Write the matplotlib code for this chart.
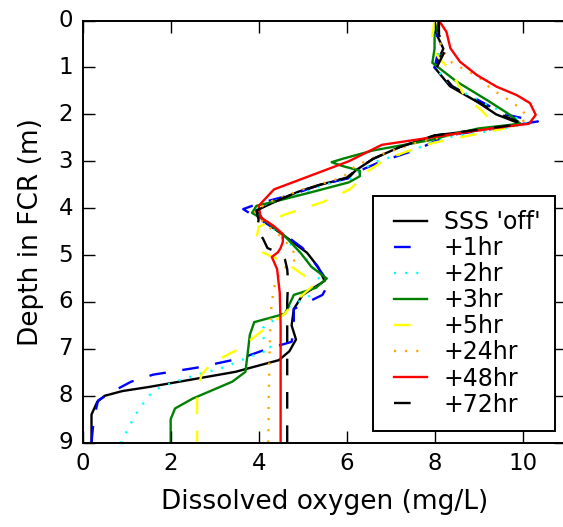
import numpy as np
import matplotlib
matplotlib.use('Agg')
import matplotlib.pyplot as plt

# depth (m) / dissolved oxygen (mg/L) profiles
depth_off = [0.0, 0.3, 0.6, 1.0, 1.4, 1.75, 2.0, 2.2, 2.3, 2.45, 2.7, 2.95, 3.2, 3.35, 3.5, 3.65,
             3.85, 4.05, 4.3, 4.6, 4.95, 5.25, 5.55, 5.85, 6.15, 6.5, 6.8, 7.05, 7.24, 7.49, 7.65,
             7.81, 7.9, 8.0, 8.13, 8.4, 9.0]
do_off = [8.1, 8.05, 8.2, 8.0, 8.35, 9.0, 9.4, 9.95, 9.3, 8.0, 7.2, 6.6, 6.2, 6.05, 5.4, 4.9,
          4.4, 3.95, 4.15, 4.6, 5.1, 5.35, 5.5, 5.0, 4.8, 4.75, 4.85, 4.7, 4.46, 3.47, 2.5,
          1.52, 0.9, 0.5, 0.33, 0.2, 0.2]

depth_1hr = [0.0, 0.3, 0.6, 1.0, 1.4, 1.8, 2.0, 2.15, 2.3, 2.45, 2.75, 3.0, 3.2, 3.35, 3.5, 3.7,
             3.9, 4.02, 4.2, 4.5, 4.85, 5.2, 5.6, 5.85, 6.15, 6.6, 6.85, 7.0, 7.2, 7.4, 7.55,
             7.7, 7.9, 8.1, 8.5, 9.0]
do_1hr = [8.1, 8.05, 8.1, 8.0, 8.4, 9.2, 9.6, 10.35, 9.4, 8.3, 7.6, 6.8, 6.3, 6.1, 5.4, 4.8,
          4.0, 3.65, 3.95, 4.5, 5.0, 5.3, 5.6, 5.45, 4.8, 4.8, 4.75, 4.2, 3.6, 2.6, 1.6,
          1.1, 0.7, 0.35, 0.25, 0.2]

depth_2hr = [0.0, 0.3, 0.6, 1.0, 1.4, 1.8, 2.0, 2.2, 2.35, 2.5, 2.8, 3.0, 3.2, 3.35, 3.5, 3.7,
             3.9, 4.05, 4.3, 4.6, 4.9, 5.2, 5.55, 5.85, 6.1, 6.35, 6.55, 6.75, 7.0, 7.2, 7.4,
             7.55, 7.7, 7.85, 8.0, 8.4, 9.0]
do_2hr = [8.1, 8.1, 8.15, 8.0, 8.4, 9.2, 9.7, 10.1, 9.3, 8.2, 7.4, 6.7, 6.3, 6.2, 5.5, 4.9,
          4.2, 3.85, 4.2, 4.5, 4.9, 5.2, 5.4, 5.2, 4.7, 4.4, 4.1, 4.1, 4.3, 3.7, 3.2,
          2.6, 2.1, 1.7, 1.5, 1.2, 0.87]

depth_3hr = [0.0, 0.3, 0.6, 0.9, 1.3, 1.7, 2.0, 2.2, 2.3, 2.45, 2.55, 2.77, 2.95, 3.02, 3.1, 3.2,
             3.32, 3.45, 3.66, 3.85, 3.95, 4.1, 4.3, 4.6, 4.95, 5.25, 5.5, 5.7, 5.85, 6.05, 6.25,
             6.43, 6.7, 7.1, 7.49, 7.7, 7.9, 8.06, 8.27, 8.5, 9.0]
do_3hr = [8.1, 8.0, 8.0, 7.95, 8.5, 9.2, 9.7, 9.95, 9.0, 8.3, 7.9, 6.6, 5.9, 5.66, 5.9, 6.3,
          6.3, 6.05, 5.2, 4.4, 3.95, 3.85, 4.2, 4.6, 4.95, 5.2, 5.55, 5.3, 4.8, 4.7, 4.6,
          3.9, 3.8, 3.75, 3.7, 3.4, 2.9, 2.5, 2.1, 2.0, 2.0]

depth_5hr = [0.0, 0.3, 0.57, 0.8, 1.0, 1.3, 1.64, 1.9, 2.1, 2.3, 2.45, 2.6, 2.75, 2.95, 3.2, 3.4,
             3.6, 3.87, 4.15, 4.4, 4.65, 4.95, 5.15, 5.35, 5.6, 5.85, 6.05, 6.25, 6.45, 6.75, 7.0,
             7.3, 7.55, 7.75, 8.0, 8.5, 9.0]
do_5hr = [8.0, 7.95, 7.95, 8.1, 8.3, 8.5, 8.7, 9.05, 9.25, 9.6, 8.8, 8.0, 7.5, 6.9, 6.5, 6.3,
          6.07, 5.46, 4.55, 4.0, 3.95, 4.1, 4.6, 4.9, 5.3, 5.0, 4.76, 4.6, 4.3, 3.9, 3.55,
          2.94, 2.7, 2.65, 2.6, 2.6, 2.6]

depth_24hr = [0.0, 0.3, 0.6, 0.9, 1.2, 1.47, 1.64, 1.9, 2.1, 2.25, 2.4, 2.6, 2.85, 3.1, 3.35, 3.6,
              3.85, 4.05, 4.3, 4.6, 4.85, 5.08, 5.2, 5.5, 5.8, 6.2, 7.0, 8.0, 9.0]
do_24hr = [8.1, 8.1, 8.15, 8.4, 9.0, 9.3, 9.6, 10.0, 10.1, 9.8, 8.6, 7.6, 6.8, 6.2, 5.9, 5.0,
           4.3, 3.9, 4.1, 4.5, 4.75, 4.87, 4.67, 4.4, 4.33, 4.28, 4.25, 4.23, 4.22]

depth_48hr = [0.0, 0.24, 0.59, 0.88, 1.16, 1.41, 1.59, 1.76, 2.01, 2.2, 2.3, 2.44, 2.65, 3.0, 3.3, 3.6,
              3.95, 4.2, 4.37, 4.55, 4.72, 4.85, 4.94, 5.04, 5.3, 5.8, 6.5, 7.5, 8.5, 9.0]
do_48hr = [8.1, 8.27, 8.36, 8.58, 8.96, 9.41, 9.87, 10.17, 10.3, 10.15, 9.3, 8.3, 6.8, 6.05, 5.2, 4.35,
           4.0, 4.05, 4.33, 4.55, 4.55, 4.5, 4.44, 4.3, 4.42, 4.48, 4.5, 4.5, 4.5, 4.5]

depth_72hr = [0.0, 0.3, 0.62, 1.0, 1.4, 1.8, 2.0, 2.2, 2.3, 2.45, 2.7, 2.95, 3.2, 3.35, 3.5, 3.65,
              3.85, 4.05, 4.25, 4.45, 4.65, 4.85, 4.97, 5.1, 5.3, 5.57, 6.0, 7.0, 8.0, 9.0]
do_72hr = [8.1, 8.1, 8.25, 8.05, 8.4, 9.1, 9.5, 10.0, 9.2, 8.0, 7.2, 6.6, 6.2, 6.0, 5.4, 4.9,
           4.4, 3.95, 4.0, 3.95, 4.1, 4.2, 4.5, 4.6, 4.65, 4.67, 4.65, 4.65, 4.65, 4.65]

labels = ["SSS 'off'", "+1hr", "+2hr", "+3hr", "+5hr", "+24hr", "+48hr", "+72hr"]
colors = ['k', 'b', 'cyan', 'g', 'yellow', 'orange', 'r', 'k']
styles = ['-', '--', ':', '-', '--', ':', '-', '--']

plt.style.use('classic')
plt.rcParams['lines.scale_dashes'] = False
plt.rcParams['lines.dashed_pattern'] = [12, 12]
plt.rcParams['lines.dotted_pattern'] = [1.5, 6.5]

fig = plt.figure(figsize=(5.63, 5.27), dpi=100, facecolor='white')
ax = fig.add_axes([0.1469, 0.16, 0.8593, 0.801])

profiles = [(depth_off, do_off), (depth_1hr, do_1hr), (depth_2hr, do_2hr), (depth_3hr, do_3hr),
            (depth_5hr, do_5hr), (depth_24hr, do_24hr), (depth_48hr, do_48hr), (depth_72hr, do_72hr)]

for (d, o), lab, c, ls in zip(profiles, labels, colors, styles):
    ax.plot(o, d, color=c, linestyle=ls, linewidth=1.7, label=lab)

ax.set_xlim(0, 11)
ax.set_ylim(9, 0)
ax.set_xticks([0, 2, 4, 6, 8, 10])
ax.set_yticks(range(10))
ax.tick_params(labelsize=16.5, length=8.5, width=1, pad=7)
for s in ax.spines.values():
    s.set_linewidth(1.4)

ax.set_xlabel('Dissolved oxygen (mg/L)', fontsize=19, labelpad=10)
ax.set_ylabel('Depth in FCR (m)', fontsize=19, labelpad=10)

leg = ax.legend(loc='lower right', fontsize=17, labelspacing=0.09, borderpad=0.6,
                handletextpad=0.4, handlelength=2.0)
leg.get_frame().set_linewidth(1.4)

fig.savefig('out.png', dpi=100, facecolor='white')
